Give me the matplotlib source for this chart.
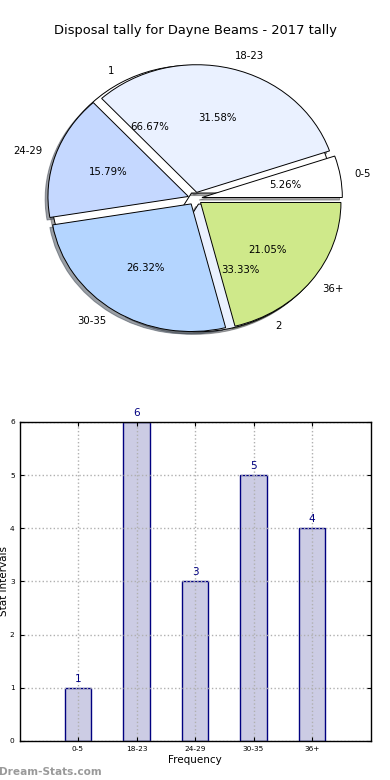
import matplotlib
matplotlib.use("Agg")
import matplotlib.pyplot as plt

# ---- data ----
categories = ['0-5', '18-23', '24-29', '30-35', '36+']
counts = [1, 6, 3, 5, 4]
other_labels = ['1', '2']
other_values = [2, 1]
title = 'Disposal tally for Dayne Beams - 2017 tally'

pie_colors = ['#ffffff', '#eaf1ff', '#c5d8ff', '#b4d5ff', '#cfe98a']

fig, (ax1, ax2) = plt.subplots(2, 1, figsize=(3.9, 7.8), dpi=100)
fig.subplots_adjust(left=0.05, right=0.95, top=0.95, bottom=0.05, hspace=0.2)

shadow = {'ox': -0.02 * 72 / 100, 'oy': -0.02 * 72 / 100}
wprops = {'edgecolor': 'black', 'linewidth': 0.7}
tprops = {'fontsize': 7.3}

# leftover pie underneath
ax1.pie(other_values, labels=other_labels, explode=[0.05] * len(other_values),
        colors=pie_colors[:len(other_values)], autopct='%1.2f%%', shadow=shadow,
        wedgeprops=wprops, textprops=tprops)
# main pie
ax1.pie(counts, labels=categories, explode=[0.05] * len(counts),
        colors=pie_colors, autopct='%1.2f%%', shadow=shadow,
        wedgeprops=wprops, textprops=tprops)
ax1.set_aspect('auto')
ax1.set_xlim(-1.25, 1.25)
ax1.set_ylim(-1.25, 1.25)
ax1.set_title(title, fontsize=9.4, pad=3.5)

# bar chart
x = list(range(len(categories)))
ax2.bar(x, counts, width=0.45, color='#ccccE4', edgecolor='navy', linewidth=1.0)
for xi, v in zip(x, counts):
    ax2.text(xi, v + 0.08, str(v), ha='center', va='bottom', fontsize=7.5, color='navy')
ax2.set_xlim(-1, 5)
ax2.set_ylim(0, 6)
ax2.set_xticks(x)
ax2.set_xticklabels(categories)
ax2.set_yticks(range(0, 7))
ax2.tick_params(labelsize=5.3, direction='in', top=True, right=True, length=3, width=0.8)
ax2.grid(True, linestyle=':', color='#b0b0b0', linewidth=1.0)
ax2.set_xlabel('Frequency', fontsize=7.5, labelpad=2)
ax2.set_ylabel('Stat Intervals', fontsize=7.5, labelpad=0.5)
for s in ax2.spines.values():
    s.set_linewidth(1.0)

fig.text(-0.002, 0.004, 'Dream-Stats.com', fontsize=7.6, fontweight='bold',
         color='#9a9a9a', ha='left', va='bottom')

fig.savefig('out.png', dpi=100)
